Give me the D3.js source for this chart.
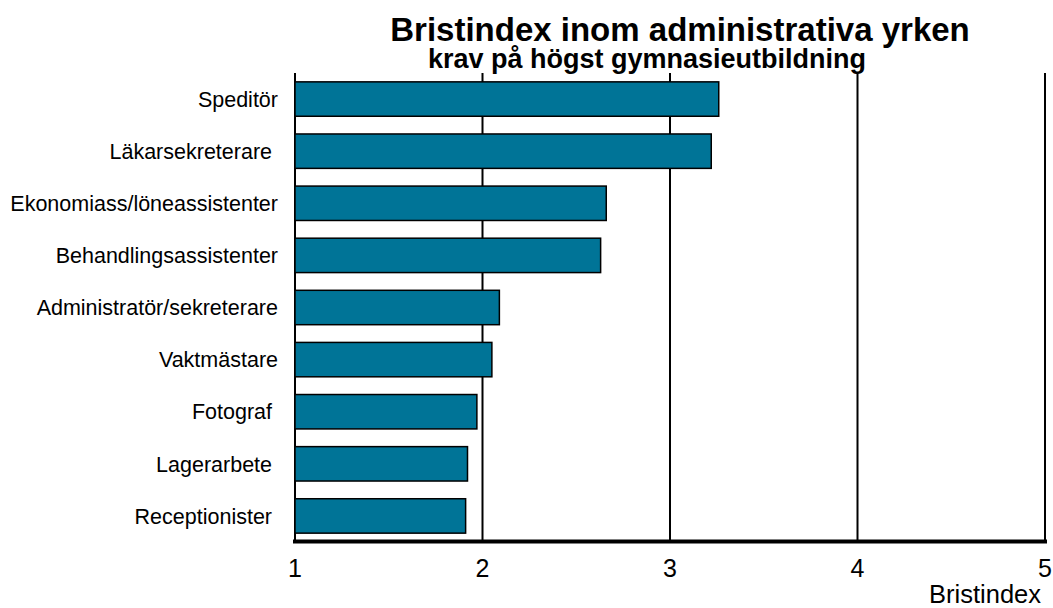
<!DOCTYPE html>
<html><head><meta charset="utf-8">
<script src="https://cdn.jsdelivr.net/npm/d3@7/dist/d3.min.js"></script>
<style>html,body{margin:0;padding:0;background:#fff;} text{font-family:"Liberation Sans",Arial,sans-serif;white-space:pre;}</style>
</head><body>
<svg id="c" width="1053" height="608"></svg>
<script>
const categories = ["Speditör","Läkarsekreterare ","Ekonomiass/löneassistenter","Behandlingsassistenter","Administratör/sekreterare","Vaktmästare","Fotograf ","Lagerarbete ","Receptionister "];
const values = [3.26, 3.22, 2.66, 2.63, 2.09, 2.05, 1.97, 1.92, 1.91];
const xTicks = [1,2,3,4,5];
const title = "Bristindex inom administrativa yrken";
const subtitle = "krav på högst gymnasieutbildning";
const xLabel = "Bristindex";

const svg = d3.select("#c");
const x = d3.scaleLinear().domain([1,5]).range([295,1045]);
const y = d3.scaleBand().domain(categories).range([73,542]).paddingInner(0.34).paddingOuter(0.17);

// gridlines
svg.append("g").selectAll("line").data(xTicks.slice(1)).join("line")
  .attr("x1",d=>x(d)).attr("x2",d=>x(d)).attr("y1",73).attr("y2",542)
  .attr("stroke","#000").attr("stroke-width",2);
// left axis
svg.append("line").attr("x1",x(1)).attr("x2",x(1)).attr("y1",73).attr("y2",542).attr("stroke","#000").attr("stroke-width",2);

// bars
svg.append("g").selectAll("rect").data(values).join("rect")
  .attr("x",x(1)).attr("y",(d,i)=>y(categories[i]))
  .attr("width",d=>x(d)-x(1)).attr("height",y.bandwidth())
  .attr("fill","#007497").attr("stroke","#000").attr("stroke-width",1.5);

// bottom axis
svg.append("line").attr("x1",x(1)-2).attr("x2",x(5)+2).attr("y1",541.5).attr("y2",541.5).attr("stroke","#000").attr("stroke-width",4);

// category labels
svg.append("g").selectAll("text").data(categories).join("text")
  .attr("x",278).attr("y",d=>y(d)+y.bandwidth()/2).attr("dy","0.36em")
  .attr("text-anchor","end").attr("font-size",21.5).attr("fill","#000").text(d=>d);

// x tick labels
svg.append("g").selectAll("text").data(xTicks).join("text")
  .attr("x",d=>x(d)).attr("y",577).attr("text-anchor","middle").attr("font-size",25).text(d=>d);

svg.append("text").attr("x",1041).attr("y",603).attr("text-anchor","end").attr("font-size",25.5).text(xLabel);
svg.append("text").attr("x",680).attr("y",41).attr("text-anchor","middle").attr("font-size",33).attr("font-weight","bold").text(title);
svg.append("text").attr("x",647).attr("y",68).attr("text-anchor","middle").attr("font-size",27).attr("font-weight","bold").text(subtitle);
</script>
</body></html>
